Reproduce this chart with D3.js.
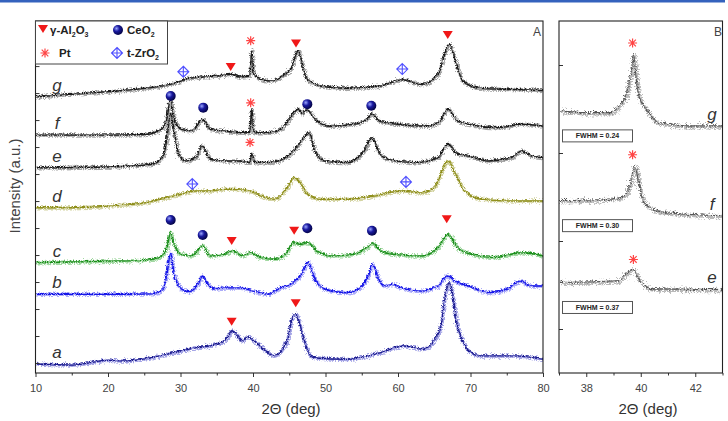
<!DOCTYPE html>
<html>
<head>
<meta charset="utf-8">
<script src="https://cdn.jsdelivr.net/npm/d3@7"></script>
<style>
body { margin: 0; background: #fff; }
svg { display: block; font-family: "Liberation Sans", Arial, sans-serif; }
</style>
</head>
<body>
<script>
// ---- data: [2theta, intensity (a.u., offset per sample)] ----
var sampleA = [[10,0.0],[15,-0.04],[20,0.14],[22,0.11],[25,0.19],[27,0.30],[30,0.48],[32,0.60],[34,0.67],[36,0.85],
    [37.06,1.22],[38.44,0.85],[39.13,1.0],[40.3,0.8],[41.9,0.42],[42.8,0.30],[44.6,0.85],[45.1,1.5],[45.8,1.84],[46.7,1.11],
    [47.4,0.48],[48.3,0.23],[52.9,0.17],[57.5,0.42],[60.7,0.67],[63.4,0.54],[65,0.93],[65.8,1.4],[66.4,2.5],[66.9,3.01],
    [67.4,2.6],[68.0,1.5],[68.8,0.85],[69.8,0.45],[71.3,0.30],[75.9,0.30],[80,0.17]];
var sampleB = [[10,2.58],[20,2.58],[26,2.60],[27.5,2.78],[28,3.33],[28.5,4.1],[29,3.33],[30,2.78],[31,2.68],[32.3,2.96],
    [32.9,3.26],[33.5,3.01],[34.5,2.78],[36,2.82],[38,2.82],[40,2.70],[42,2.58],[43.7,2.82],[45.2,2.96],[46.6,3.33],
    [47.5,3.75],[48.3,3.20],[49.7,2.78],[52.9,2.64],[54.7,2.82],[55.9,3.33],[56.4,3.69],[57.1,3.20],[58,2.89],[59.2,2.95],
    [60.3,2.82],[63.1,2.70],[65.4,2.89],[66.8,3.26],[67.7,3.07],[69.6,2.89],[72.4,2.64],[75.1,2.78],[76.7,3.07],[78.3,2.89],[80,2.89]];
var sampleC = [[10,3.75],[20,3.81],[25,3.84],[27,3.94],[28,4.31],[28.5,4.86],[29,4.43],[30,4.06],[31.5,4.0],[32.9,4.37],
    [34,4.0],[36,4.06],[37,4.19],[38.5,4.0],[39.5,4.12],[41,3.94],[43,3.88],[44.5,4.11],[45.5,4.49],[46.4,4.43],[47.4,4.49],
    [48.7,4.19],[50.6,4.0],[53.8,4.06],[55.6,4.31],[56.4,4.46],[57.5,4.19],[59.3,4.06],[63.1,4.0],[65.4,4.31],[66.8,4.79],
    [68.1,4.31],[70,4.06],[73.2,3.94],[76.9,4.12],[80,4.0]];
var sampleD = [[10,5.79],[15,5.79],[20,5.85],[25,5.97],[28,6.16],[30,6.29],[32,6.41],[34,6.41],[36,6.47],[37,6.47],
    [39.5,6.41],[41,6.22],[43,6.10],[44.6,6.53],[45.6,6.9],[46.4,6.71],[47.4,6.29],[49.2,6.10],[52.9,6.10],[56.6,6.22],
    [60.3,6.41],[63.1,6.34],[64.9,6.53],[66.1,7.21],[66.8,7.52],[67.7,7.09],[69.1,6.41],[71.4,6.10],[76,6.04],[80,6.04]];
var sampleE = [[10,7.27],[20,7.30],[26,7.40],[27.5,7.70],[28,8.38],[28.5,9.26],[29,8.63],[29.5,7.89],[30.5,7.52],[32,7.64],
    [32.9,8.07],[34,7.58],[36,7.52],[38,7.52],[39.4,7.46],[39.7,7.77],[40.1,7.46],[42,7.46],[44,7.58],[45.5,7.89],[46.9,8.38],
    [47.6,8.56],[48.3,8.0],[49.7,7.52],[52.9,7.46],[55.2,7.89],[56.3,8.38],[57.3,7.81],[58.5,7.58],[62.1,7.46],[65.4,7.64],
    [66.8,8.14],[68.1,7.77],[69.6,7.70],[72.4,7.52],[75.6,7.64],[76.9,7.89],[78.3,7.70],[80,7.64]];
var sampleF = [[10,8.48],[20,8.48],[25,8.50],[27.5,8.75],[28,9.11],[28.5,9.85],[29,9.11],[30,8.69],[31.5,8.63],[32.9,9.06],
    [34,8.69],[36,8.63],[38,8.57],[39.4,8.57],[39.7,9.44],[40.0,8.57],[42,8.57],[44,8.75],[45,9.11],[46.1,9.44],[46.7,9.26],
    [47.3,9.41],[48.7,9.0],[50.6,8.81],[53.8,8.88],[55.6,9.06],[56.3,9.27],[57.3,9.0],[59.8,8.88],[64,8.81],[65.7,9.0],
    [66.8,9.44],[68.1,9.0],[69.6,8.88],[73.7,8.75],[76.9,8.88],[80,8.81]];
var sampleG = [[10,9.90],[15,9.99],[20,10.09],[25,10.21],[28,10.33],[30,10.48],[31,10.58],[33,10.63],[35,10.67],[37,10.73],
    [38,10.63],[39.4,10.67],[39.7,11.59],[40.0,10.78],[41,10.53],[42.5,10.48],[44,10.67],[45.2,10.97],[46.1,11.59],[46.8,10.97],
    [47.4,10.53],[49.2,10.30],[52.9,10.21],[57.5,10.30],[60.5,10.53],[63.1,10.35],[65.4,10.72],[66.3,11.46],[67,11.84],
    [67.7,11.33],[68.8,10.48],[71.3,10.21],[75.9,10.17],[80,10.13]];

var namesA = ["a", "b", "c", "d", "e", "f", "g"];
var seriesA = [sampleA, sampleB, sampleC, sampleD, sampleE, sampleF, sampleG];

// phase markers in panel A: [phase, 2theta, intensity]
var markersA = [
    ["zr",30.39,10.79],["al",36.92,10.97],["pt",39.68,11.94],["al",45.93,11.84],["zr",60.59,10.89],["al",66.86,12.15],
    ["ce",28.65,9.89],["ce",33.14,9.46],["pt",39.68,9.64],["ce",47.49,9.59],["ce",56.32,9.53],
    ["pt",39.59,8.17],
    ["zr",31.63,6.63],["zr",61.10,6.71],
    ["ce",28.65,5.30],["ce",33.06,4.74],["al",37.06,4.52],["al",45.68,4.90],["ce",47.49,4.99],["ce",56.41,4.90],["al",66.72,5.33],
    ["al",37.06,1.53],["al",45.89,2.21]
];

// panel B: Pt (111) region
var zoomG = [[37.0,2.49],[37.9,2.47],[38.9,2.47],[39.12,2.53],[39.42,2.67],[39.61,2.94],[39.70,3.13],[39.79,2.87],
    [39.91,2.64],[40.22,2.49],[40.58,2.36],[41.56,2.32],[43.0,2.32]];
var zoomF = [[37.0,1.47],[38.5,1.48],[39.3,1.51],[39.55,1.64],[39.75,1.86],[39.9,1.64],[40.05,1.47],[40.3,1.39],
    [41.0,1.33],[43.0,1.30]];
var zoomE = [[37.0,0.54],[39.12,0.56],[39.67,0.69],[39.97,0.54],[40.34,0.47],[43.0,0.46]];
var namesB = ["g", "f", "e"];
var seriesB = [zoomG, zoomF, zoomE];
var fwhmB = ["0.24", "0.30", "0.37"];
var markersB = [[39.70,3.25],[39.70,1.98],[39.73,0.79]];

var xTicksA = [10, 20, 30, 40, 50, 60, 70, 80];
var xMinorA = [15, 25, 35, 45, 55, 65, 75];
var xTicksB = [38, 40, 42];
var xMinorB = [37, 39, 41, 43];

// ---- styles ----
var lineColors = ["#1d1d8f", "#1616e8", "#1f8f1f", "#8f8f1c", "#1a1a1a", "#1a1a1a", "#1a1a1a"];
var haloColors = ["#6a6ad6", "#7474f4", "#66c066", "#b8b866", "#6a6a6a", "#6a6a6a", "#6a6a6a"];

var svg = d3.select("body").append("svg").attr("width", 728).attr("height", 421);

// blue rule at top
svg.append("rect").attr("x", 0).attr("y", 0).attr("width", 725).attr("height", 2.5).attr("fill", "#3462bd");

var defs = svg.append("defs");
var grad = defs.append("radialGradient").attr("id", "ball").attr("cx", "35%").attr("cy", "35%").attr("r", "65%");
grad.append("stop").attr("offset", "0%").attr("stop-color", "#9aa6ff");
grad.append("stop").attr("offset", "45%").attr("stop-color", "#1a1aa0");
grad.append("stop").attr("offset", "100%").attr("stop-color", "#05054a");

// rough texture for the measured traces (display effect only)
function roughFilter(id, freq, scale) {
    var f = defs.append("filter").attr("id", id).attr("filterUnits", "userSpaceOnUse")
        .attr("x", 0).attr("y", 0).attr("width", 728).attr("height", 421);
    f.append("feTurbulence").attr("type", "turbulence").attr("baseFrequency", freq)
        .attr("numOctaves", 2).attr("seed", 3).attr("result", "n");
    f.append("feDisplacementMap").attr("in", "SourceGraphic").attr("in2", "n").attr("scale", scale)
        .attr("xChannelSelector", "R").attr("yChannelSelector", "G");
}
roughFilter("rough", "0.9 0.6", 5);
roughFilter("roughFine", "0.9 0.6", 2.5);
roughFilter("roughB", "0.9 0.6", 8);
roughFilter("roughBFine", "0.9 0.6", 4);

defs.append("clipPath").attr("id", "clipA").append("rect").attr("x", 35.5).attr("y", 21).attr("width", 507.5).attr("height", 352);
defs.append("clipPath").attr("id", "clipB").append("rect").attr("x", 559).attr("y", 21).attr("width", 163.5).attr("height", 352);

// draws one phase marker
function marker(g, type, x, y) {
    var m = g.append("g").attr("transform", "translate(" + [x, y] + ")");
    if (type == "al") {
        m.append("path").attr("d", "M-5,-4L5,-4L0,4Z").attr("fill", "#f01818");
    } else if (type == "ce") {
        m.append("circle").attr("r", 5).attr("fill", "url(#ball)");
    } else if (type == "pt") {
        m.append("path").attr("d", "M-4.5,0H4.5M0,-4.5V4.5M-3.3,-3.3L3.3,3.3M-3.3,3.3L3.3,-3.3")
            .attr("stroke", "#ff4545").attr("stroke-width", 1.2).attr("fill", "none");
    } else {
        m.append("path").attr("d", "M0,-5.5L5.5,0L0,5.5L-5.5,0ZM0,-5.5V5.5M-5.5,0H5.5")
            .attr("stroke", "#4f4fff").attr("stroke-width", 1.1).attr("fill", "none");
    }
}

// ================= panel A =================
var xA = d3.scaleLinear().domain([10, 80]).range([35.5, 543]);
var yA = d3.scaleLinear().domain([-0.37, 12.67]).range([373, 21]);

var lineA = d3.line()
    .x(function(d) { return xA(d[0]); })
    .y(function(d) { return yA(d[1]); })
    .curve(d3.curveMonotoneX);

var plotA = svg.append("g").attr("clip-path", "url(#clipA)");
seriesA.forEach(function(s, i) {
    plotA.append("path").datum(s).attr("d", lineA).attr("fill", "none").attr("filter", "url(#rough)")
        .attr("stroke", haloColors[i]).attr("stroke-width", 3.5).attr("stroke-opacity", 0.6);
    plotA.append("path").datum(s).attr("d", lineA).attr("fill", "none").attr("filter", "url(#roughFine)")
        .attr("stroke", lineColors[i]).attr("stroke-width", 1.4);
});

markersA.forEach(function(m) { marker(svg, m[0], xA(m[1]), yA(m[2])); });

// sample letters
seriesA.forEach(function(s, i) {
    svg.append("text").attr("x", 57).attr("y", yA(s[0][1]) - 11).attr("dy", "0.35em")
        .attr("text-anchor", "middle").attr("font-style", "italic").attr("font-size", 17)
        .attr("fill", "#333").text(namesA[i]);
});

// axes
svg.append("g").attr("transform", "translate(0,373)")
    .call(d3.axisBottom(xA).tickValues(xTicksA).tickSize(4).tickPadding(7).tickFormat(d3.format("d")))
    .call(function(g) { g.select(".domain").remove(); });
svg.append("g").attr("transform", "translate(0,373)")
    .call(d3.axisBottom(xA).tickValues(xMinorA).tickSize(2.5).tickFormat(""))
    .call(function(g) { g.select(".domain").remove(); });
svg.append("g").attr("transform", "translate(35.5,0)")
    .call(d3.axisLeft(yA).tickValues(d3.range(0, 13)).tickSize(-4).tickFormat(""))
    .call(function(g) { g.select(".domain").remove(); });

svg.append("rect").attr("x", 35.5).attr("y", 21).attr("width", 507.5).attr("height", 352)
    .attr("fill", "none").attr("stroke", "#222").attr("stroke-width", 1.1);

// legend
var leg = svg.append("g");
leg.append("rect").attr("x", 35.5).attr("y", 21).attr("width", 132).attr("height", 43)
    .attr("fill", "#fff").attr("stroke", "#444").attr("stroke-width", 1);
marker(leg, "al", 43, 29);
marker(leg, "ce", 118, 30);
marker(leg, "pt", 45, 53);
marker(leg, "zr", 117, 53);
function legText(x, y, parts) {
    var t = leg.append("text").attr("x", x).attr("y", y).attr("font-size", 11.5)
        .attr("font-weight", "bold").attr("fill", "#222");
    parts.forEach(function(p) {
        if (p[1]) t.append("tspan").attr("font-size", 7).attr("dy", 3).text(p[0]);
        else t.append("tspan").attr("dy", p[2] || 0).text(p[0]);
    });
}
legText(50, 34, [["γ-Al"], ["2", 1], ["O", 0, -3], ["3", 1]]);
legText(127, 34, [["CeO"], ["2", 1]]);
legText(59, 57, [["Pt"]]);
legText(127, 57, [["t-ZrO"], ["2", 1]]);

svg.append("text").attr("x", 537).attr("y", 36).attr("text-anchor", "middle")
    .attr("font-size", 12).attr("fill", "#444").text("A");

svg.append("text").attr("x", 291).attr("y", 414).attr("text-anchor", "middle")
    .attr("font-size", 15).attr("fill", "#333").text("2Θ (deg)");
svg.append("text").attr("transform", "translate(20,186) rotate(-90)").attr("text-anchor", "middle")
    .attr("font-size", 15).attr("fill", "#444").text("Intensity (a.u.)");

// ================= panel B =================
var xB = d3.scaleLinear().domain([37, 43]).range([559, 722.5]);
var yB = d3.scaleLinear().domain([-0.5, 3.5]).range([373, 21]);

var lineB = d3.line()
    .x(function(d) { return xB(d[0]); })
    .y(function(d) { return yB(d[1]); })
    .curve(d3.curveMonotoneX);

var plotB = svg.append("g").attr("clip-path", "url(#clipB)");
seriesB.forEach(function(s, i) {
    plotB.append("path").datum(s).attr("d", lineB).attr("fill", "none").attr("filter", "url(#roughB)")
        .attr("stroke", "#8a8a8a").attr("stroke-width", 3.5).attr("stroke-opacity", 0.6);
    plotB.append("path").datum(s).attr("d", lineB).attr("fill", "none").attr("filter", "url(#roughBFine)")
        .attr("stroke", "#555").attr("stroke-width", 1.1);

    // sample letter on right
    svg.append("text").attr("x", 712).attr("y", yB(s[s.length - 1][1]) - 11).attr("dy", "0.35em")
        .attr("text-anchor", "middle").attr("font-style", "italic").attr("font-size", 17)
        .attr("fill", "#333").text(namesB[i]);

    // FWHM box
    var by = yB(s[0][1]) + 20;
    svg.append("rect").attr("x", 562.5).attr("y", by).attr("width", 70).attr("height", 12)
        .attr("fill", "#fff").attr("stroke", "#555").attr("stroke-width", 1);
    svg.append("text").attr("x", 597.5).attr("y", by + 6).attr("dy", "0.35em").attr("text-anchor", "middle")
        .attr("font-size", 7).attr("font-weight", "bold").attr("fill", "#222").text("FWHM = " + fwhmB[i]);
});

markersB.forEach(function(m) { marker(svg, "pt", xB(m[0]), yB(m[1])); });

svg.append("g").attr("transform", "translate(0,373)")
    .call(d3.axisBottom(xB).tickValues(xTicksB).tickSize(4).tickPadding(7).tickFormat(d3.format("d")))
    .call(function(g) { g.select(".domain").remove(); });
svg.append("g").attr("transform", "translate(0,373)")
    .call(d3.axisBottom(xB).tickValues(xMinorB).tickSize(2.5).tickFormat(""))
    .call(function(g) { g.select(".domain").remove(); });
svg.append("g").attr("transform", "translate(559,0)")
    .call(d3.axisLeft(yB).tickValues([0, 1, 2, 3]).tickSize(-4).tickFormat(""))
    .call(function(g) { g.select(".domain").remove(); });

svg.append("rect").attr("x", 559).attr("y", 21).attr("width", 163.5).attr("height", 352)
    .attr("fill", "none").attr("stroke", "#222").attr("stroke-width", 1.1);

svg.append("text").attr("x", 718).attr("y", 36).attr("text-anchor", "middle")
    .attr("font-size", 12).attr("fill", "#444").text("B");
svg.append("text").attr("x", 648).attr("y", 414).attr("text-anchor", "middle")
    .attr("font-size", 15).attr("fill", "#333").text("2Θ (deg)");

// tick label style
svg.selectAll(".tick text").attr("font-size", 11).attr("fill", "#444")
    .attr("font-family", "\"Liberation Sans\", Arial, sans-serif");
svg.selectAll(".tick line").attr("stroke", "#333");
</script>
</body>
</html>
